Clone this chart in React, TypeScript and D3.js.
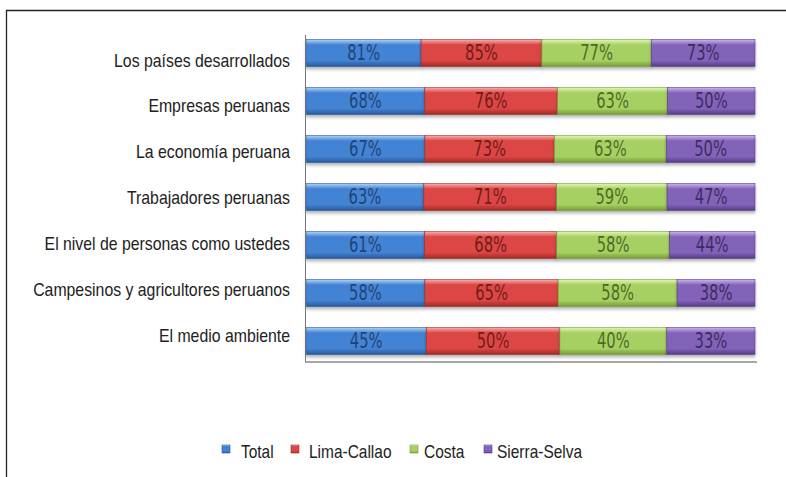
import React from "react";
import * as d3 from "d3";

const categories = [
  "Los países desarrollados",
  "Empresas peruanas",
  "La economía peruana",
  "Trabajadores peruanas",
  "El nivel de personas como ustedes",
  "Campesinos y agricultores peruanos",
  "El medio ambiente",
];
const seriesNames = ["Total", "Lima-Callao", "Costa", "Sierra-Selva"];
const total = [81, 68, 67, 63, 61, 58, 45];
const limaCallao = [85, 76, 73, 71, 68, 65, 50];
const costa = [77, 63, 63, 59, 58, 58, 40];
const sierraSelva = [73, 50, 50, 47, 44, 38, 33];

const palettes = [
  { light: "#b3d2f6", base: "#4383d4", dark: "#28599a", text: "#1a3662" },
  { light: "#f5b0ae", base: "#dc4644", dark: "#a02a28", text: "#5a1412" },
  { light: "#e2f4b8", base: "#a7d062", dark: "#759b38", text: "#3b5618" },
  { light: "#c9b6ea", base: "#8363b9", dark: "#543c88", text: "#30214c" },
];

export default function App() {
  const W = 786, H = 477;
  const x0 = 306, x1 = 755;
  const rows = categories.map((c, i) => ({
    cat: c,
    "Total": total[i],
    "Lima-Callao": limaCallao[i],
    "Costa": costa[i],
    "Sierra-Selva": sierraSelva[i],
  }));
  const stacked = d3.stack<any>().keys(seriesNames).offset(d3.stackOffsetExpand)(rows);
  const x = d3.scaleLinear().domain([0, 1]).range([x0, x1]);
  const y = d3.scaleBand().domain(categories).range([29, 365]).paddingInner(0.44).paddingOuter(0.22);
  const yLab = d3.scalePoint().domain(categories).range([61, 336]);

  const legendX = [222, 291, 410, 484];
  const legendTextX = [241, 309, 424, 497];

  return (
    <svg width={W} height={H} style={{ position: "absolute", left: 0, top: 0, background: "#fff" }}>
      <defs>
        {palettes.map((p, i) => (
          <linearGradient key={i} id={`g${i}`} x1="0" y1="0" x2="0" y2="1">
            <stop offset="0%" stopColor={p.light} />
            <stop offset="20%" stopColor={p.base} />
            <stop offset="78%" stopColor={p.base} />
            <stop offset="100%" stopColor={p.dark} />
          </linearGradient>
        ))}
        <filter id="sh" x="-5%" y="-20%" width="110%" height="160%">
          <feDropShadow dx="0" dy="2.5" stdDeviation="1.5" floodColor="#000" floodOpacity="0.3" />
        </filter>
      </defs>
      {/* outer frame */}
      <line x1={6} y1={10.5} x2={786} y2={10.5} stroke="#222" strokeWidth={1.3} />
      <line x1={6.5} y1={10} x2={6.5} y2={477} stroke="#222" strokeWidth={1.3} />

      {/* bars */}
      {stacked.map((s, si) => (
        <g key={si}>
          {s.map((d, ri) => {
            const cat = categories[ri];
            const yy = y(cat)!;
            return (
              <rect key={ri} x={x(d[0])} y={yy} width={x(d[1]) - x(d[0])} height={y.bandwidth()}
                fill={`url(#g${si})`} stroke={palettes[si].dark} strokeWidth={0.6} filter="url(#sh)" />
            );
          })}
        </g>
      ))}
      {stacked.map((s, si) => (
        <g key={"t" + si}>
          {s.map((d, ri) => {
            const cat = categories[ri];
            const cx = (x(d[0]) + x(d[1])) / 2;
            const cy = y(cat)! + y.bandwidth() / 2 + 7;
            return (
              <text key={ri} transform={`translate(${cx},${cy}) scale(0.8,1)`} textAnchor="middle"
                fontFamily="'Liberation Sans Narrow', 'DejaVu Sans Condensed', sans-serif" fontSize={20.5}
                fill={palettes[si].text} fillOpacity={0.85}>
                {(d.data as any)[seriesNames[si]]}%
              </text>
            );
          })}
        </g>
      ))}

      {/* axes */}
      <line x1={305.5} y1={35} x2={305.5} y2={362} stroke="#777" strokeWidth={1} />
      <line x1={305} y1={362} x2={757} y2={362} stroke="#888" strokeWidth={1.6} />

      {/* category labels */}
      {categories.map((c, i) => (
        <text key={i} transform={`translate(290,${yLab(c)! + 5.5}) scale(0.88,1)`} textAnchor="end"
          fontFamily="'Liberation Sans', Arial, sans-serif" fontSize={18} fill="#222">
          {c}
        </text>
      ))}

      {/* legend */}
      {seriesNames.map((n, i) => (
        <g key={i}>
          <rect x={legendX[i]} y={445} width={8} height={8} fill={`url(#g${i})`} stroke={palettes[i].dark} strokeWidth={0.6} />
          <text transform={`translate(${legendTextX[i]},457.5) scale(0.86,1)`}
            fontFamily="'Liberation Sans', Arial, sans-serif" fontSize={18} fill="#222">
            {n}
          </text>
        </g>
      ))}
    </svg>
  );
}
